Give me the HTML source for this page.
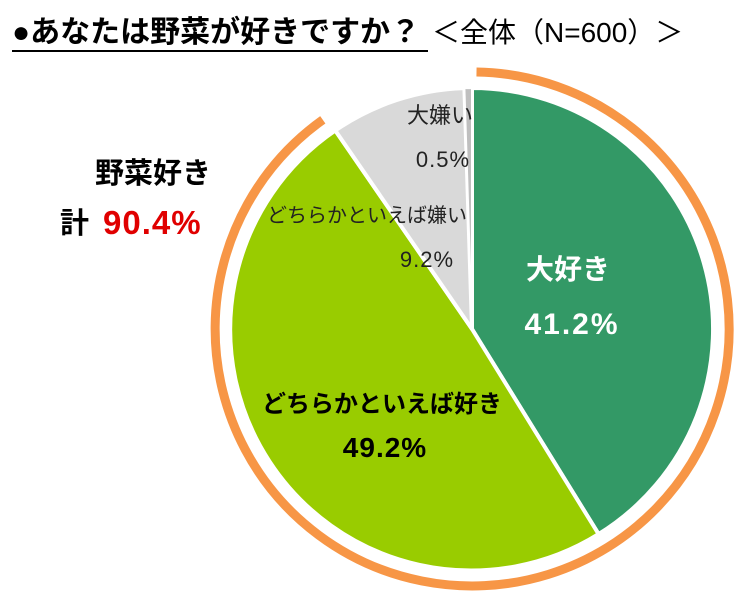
<!DOCTYPE html>
<html><head><meta charset="utf-8"><style>
body{margin:0;background:#fff;width:750px;height:591px;overflow:hidden}
svg text{font-family:"Liberation Sans","Noto Sans CJK JP",sans-serif}
</style></head><body>
<svg width="750" height="591" viewBox="0 0 750 591">
<text x="12" y="42" font-size="30" font-weight="bold" fill="#000">●あなたは野菜が好きですか？</text>
<line x1="12" y1="51" x2="428" y2="51" stroke="#000" stroke-width="2"/>
<text x="432" y="42" font-size="28" fill="#000">＜全体（N=600）＞</text>
<path d="M476.5,72 A257,257 0 1,1 322.8,119.8" fill="none" stroke="#f79646" stroke-width="9"/>
<g stroke="#fff" stroke-width="4" stroke-linejoin="round">
<path d="M472,329 L472,88 A241,241 0 0,1 598.6,534.1 Z" fill="#339966"/>
<path d="M472,329 L598.6,534.1 A241,241 0 0,1 335.3,130.5 Z" fill="#99cc00"/>
<path d="M472,329 L335.3,130.5 A241,241 0 0,1 464.4,88.1 Z" fill="#d9d9d9"/>
<path d="M472,329 L464.4,88.1 A241,241 0 0,1 472,88 Z" fill="#bfbfbf" stroke-width="2"/>
</g>
<g text-anchor="middle">
<text x="568" y="279" font-size="28" font-weight="bold" fill="#fff">大好き</text>
<text x="572" y="334" font-size="30" font-weight="bold" fill="#fff" letter-spacing="2">41.2%</text>
<text x="382" y="412" font-size="24" font-weight="bold" fill="#000">どちらかといえば好き</text>
<text x="385" y="457" font-size="28" font-weight="bold" fill="#000" letter-spacing="1">49.2%</text>
<text x="367" y="222" font-size="20" fill="#222">どちらかといえば嫌い</text>
<text x="427" y="267" font-size="22" fill="#222" letter-spacing="1">9.2%</text>
<text x="440" y="123" font-size="22" fill="#222">大嫌い</text>
<text x="443" y="167" font-size="22" fill="#222" letter-spacing="1">0.5%</text>
<text x="153" y="183" font-size="29" font-weight="bold" fill="#000">野菜好き</text>
</g>
<text x="60" y="233" font-size="29" font-weight="bold" fill="#000">計</text>
<text x="103" y="234" font-size="33" font-weight="bold" fill="#e00000" letter-spacing="1">90.4%</text>
</svg>
</body></html>
